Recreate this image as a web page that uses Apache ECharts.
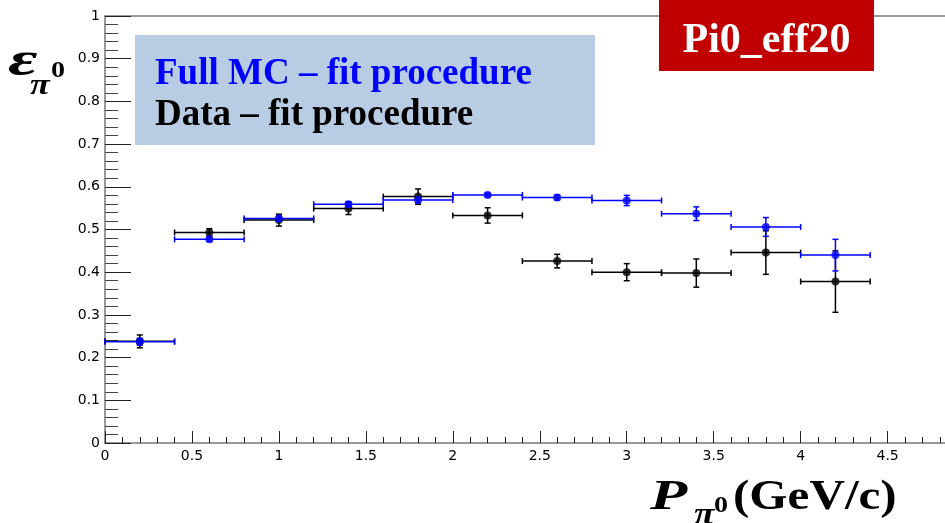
<!DOCTYPE html>
<html>
<head>
<meta charset="utf-8">
<script src="https://cdn.jsdelivr.net/npm/echarts@6/dist/echarts.min.js"></script>
<style>
  html, body { margin: 0; padding: 0; background: #fff; }
  #main { width: 945px; height: 523px; }
</style>
</head>
<body>
<div id="main"></div>
<script>
// bin centres in P (GeV/c), half width of each bin
var binCenters = [0.2, 0.6, 1.0, 1.4, 1.8, 2.2, 2.6, 3.0, 3.4, 3.8, 4.2];
var binHalf = [0.2, 0.2, 0.2, 0.2, 0.2, 0.2, 0.2, 0.2, 0.2, 0.2, 0.2];

// Full MC - fit procedure (blue)
var mcEff = [0.237, 0.477, 0.526, 0.559, 0.569, 0.581, 0.575, 0.568, 0.537, 0.506, 0.440];
var mcErr = [0.008, 0.005, 0.006, 0.006, 0.006, 0.004, 0.006, 0.012, 0.016, 0.022, 0.037];

// Data - fit procedure (black)
var dataEff = [0.238, 0.493, 0.522, 0.549, 0.577, 0.533, 0.426, 0.400, 0.398, 0.446, 0.378];
var dataErr = [0.015, 0.009, 0.014, 0.014, 0.018, 0.018, 0.016, 0.020, 0.033, 0.051, 0.072];

// axis ticks
var xMajorTicks = [0, 0.5, 1, 1.5, 2, 2.5, 3, 3.5, 4, 4.5];
var xMinorTicks = [];
for (var i = 1; i <= 48; i++) { if (i % 5 !== 0) xMinorTicks.push(i / 10); }

var chart = echarts.init(document.getElementById('main'), null, { renderer: 'canvas' });

// error bars drawn like ROOT "E1": horizontal bin width + vertical error, with small caps
function errRenderer(color) {
  return function (params, api) {
    var x = api.value(0), y = api.value(1), xe = api.value(2), ye = api.value(3);
    var l = api.coord([x - xe, y]), r = api.coord([x + xe, y]);
    var t = api.coord([x, y + ye]), b = api.coord([x, y - ye]);
    var st = { stroke: color, lineWidth: 1.5 };
    var c = 3;
    return {
      type: 'group',
      children: [
        { type: 'line', shape: { x1: l[0], y1: l[1], x2: r[0], y2: r[1] }, style: st },
        { type: 'line', shape: { x1: l[0], y1: l[1] - c, x2: l[0], y2: l[1] + c }, style: st },
        { type: 'line', shape: { x1: r[0], y1: r[1] - c, x2: r[0], y2: r[1] + c }, style: st },
        { type: 'line', shape: { x1: t[0], y1: t[1], x2: b[0], y2: b[1] }, style: st },
        { type: 'line', shape: { x1: t[0] - c, y1: t[1], x2: t[0] + c, y2: t[1] }, style: st },
        { type: 'line', shape: { x1: b[0] - c, y1: b[1], x2: b[0] + c, y2: b[1] }, style: st }
      ]
    };
  };
}

function errData(eff, err) {
  return binCenters.map(function (x, i) { return [x, eff[i], binHalf[i], err[i]]; });
}
function ptData(eff) {
  return binCenters.map(function (x, i) { return [x, eff[i]]; });
}

var serif = '"Liberation Serif", "Times New Roman", serif';
var axisGray = '#777';

// small helper for the free text pieces (titles, boxes)
function txt(x, y, text, font, fill, align, sx) {
  return {
    type: 'text', x: x, y: y, scaleX: sx || 1, z: 11,
    style: { text: text, font: font, fill: fill,
             textAlign: align, textVerticalAlign: 'middle', align: align, verticalAlign: 'middle' }
  };
}

var option = {
  backgroundColor: '#fff',
  animation: false,
  grid: { left: 105, right: 0, top: 16, bottom: 80 },
  xAxis: [
    {
      type: 'value', min: 0, max: 4.83, interval: 0.5,
      axisLine: { show: true, onZero: false, lineStyle: { color: axisGray, width: 1.5 } },
      axisTick: { show: true, inside: true, length: 12, customValues: xMajorTicks, lineStyle: { color: '#222' } },
      axisLabel: {
        customValues: xMajorTicks, margin: 6, color: '#000',
        fontFamily: 'DejaVu Sans', fontSize: 14
      },
      splitLine: { show: false }
    },
    {
      // minor ticks only
      type: 'value', min: 0, max: 4.83, position: 'bottom',
      axisLine: { show: false },
      axisTick: { show: true, inside: true, length: 6, customValues: xMinorTicks, lineStyle: { color: '#222' } },
      axisLabel: { show: false },
      splitLine: { show: false }
    },
    {
      // top frame line
      type: 'value', min: 0, max: 4.83, position: 'top',
      axisLine: { show: true, lineStyle: { color: axisGray, width: 1.5 } },
      axisTick: { show: false }, axisLabel: { show: false }, splitLine: { show: false }
    }
  ],
  yAxis: {
    type: 'value', min: 0, max: 1, interval: 0.1,
    axisLine: { show: true, lineStyle: { color: axisGray, width: 1.5 } },
    axisTick: { show: true, inside: true, length: 26, lineStyle: { color: '#222' } },
    minorTick: { show: true, splitNumber: 5, length: 13, lineStyle: { color: '#444' } },
    axisLabel: { margin: 5, color: '#000', fontFamily: 'DejaVu Sans', fontSize: 14 },
    splitLine: { show: false }
  },
  series: [
    {
      name: 'Data - fit procedure err', type: 'custom', renderItem: errRenderer('#000'),
      data: errData(dataEff, dataErr), z: 2
    },
    {
      name: 'Data - fit procedure', type: 'scatter', symbol: 'circle', symbolSize: 8,
      itemStyle: { color: '#000' }, data: ptData(dataEff), z: 3
    },
    {
      name: 'Full MC - fit procedure err', type: 'custom', renderItem: errRenderer('#0000ff'),
      data: errData(mcEff, mcErr), z: 4
    },
    {
      name: 'Full MC - fit procedure', type: 'scatter', symbol: 'circle', symbolSize: 8,
      itemStyle: { color: '#0000ff' }, data: ptData(mcEff), z: 5
    }
  ],
  graphic: [
    // legend box
    { type: 'rect', left: 135, top: 35, shape: { width: 460, height: 110 }, style: { fill: '#b8cce4' }, z: 10 },
    txt(155, 74.5, 'Full MC \u2013 fit procedure', 'bold 37px ' + serif, '#0000ff', 'left'),
    txt(155, 115.5, 'Data \u2013 fit procedure', 'bold 37px ' + serif, '#000', 'left'),
    // tag box
    { type: 'rect', left: 659, top: 0, shape: { width: 215, height: 71 }, style: { fill: '#c00000' }, z: 10 },
    txt(766.5, 41, 'Pi0_eff20', 'bold 42px ' + serif, '#fff', 'center'),
    // y title: epsilon_{pi^0}
    txt(8, 63, '\u03b5', 'italic bold 48px ' + serif, '#000', 'left', 1.5),
    txt(30, 86, '\u03c0', 'italic bold 30px ' + serif, '#000', 'left', 1.2),
    txt(51, 71, '0', 'bold 24px ' + serif, '#000', 'left', 1.17),
    // x title: P_{pi^0} (GeV/c)
    txt(650, 498, 'P', 'italic bold 42px ' + serif, '#000', 'left', 1.45),
    txt(694, 516, '\u03c0', 'italic bold 32px ' + serif, '#000', 'left', 1.17),
    txt(714, 506, '0', 'bold 24px ' + serif, '#000', 'left', 1.17),
    txt(733, 498, '(GeV/c)', 'bold 42px ' + serif, '#000', 'left', 1.17)
  ]
};

chart.setOption(option);
</script>
</body>
</html>
